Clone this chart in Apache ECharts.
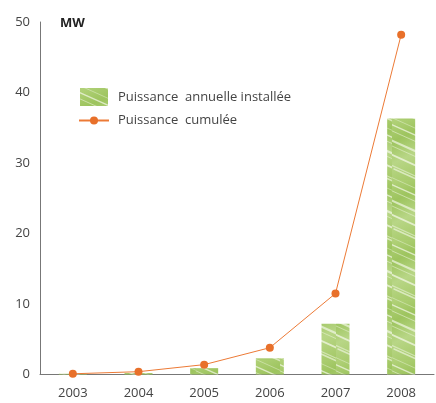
<!DOCTYPE html>
<html><head><meta charset="utf-8">
<script src="https://cdn.jsdelivr.net/npm/echarts@6/dist/echarts.min.js"></script>
<style>html,body{margin:0;padding:0;background:#fff}#c{width:436px;height:403px}</style>
</head><body><div id="c"></div>
<script>
const years = ['2003','2004','2005','2006','2007','2008'];
const annualMW = [0.1, 0.2, 0.9, 2.3, 7.2, 36.3];
const cumulativeMW = [0.1, 0.4, 1.4, 3.8, 11.5, 48.2];
const yTicks = [0, 10, 20, 30, 40, 50];
const seriesNames = ['Puissance  annuelle installée', 'Puissance  cumulée'];

function makePattern() {
  const c = document.createElement('canvas');
  c.width = 28; c.height = 60;
  const g = c.getContext('2d');
  const grd = g.createLinearGradient(0, 0, 28, 60);
  grd.addColorStop(0, '#b2d27a');
  grd.addColorStop(0.3, '#9dc45e');
  grd.addColorStop(0.6, '#b8d686');
  grd.addColorStop(1, '#a4c866');
  g.fillStyle = grd; g.fillRect(0, 0, 28, 60);
  g.lineCap = 'round';
  const streaks = [[-6,2,1.4,0.7],[-2,10,1.0,0.5],[-8,17,2.2,0.65],[0,26,1.0,0.45],[-4,33,1.8,0.7],[-10,41,1.2,0.5],[2,49,1.6,0.6],[-6,55,1.0,0.4]];
  streaks.forEach(s => {
    g.strokeStyle = 'rgba(246,250,236,' + s[3] + ')';
    g.lineWidth = s[2];
    [-60, 0, 60].forEach(o => {
      g.beginPath(); g.moveTo(s[0], s[1] + o); g.lineTo(s[0] + 40, s[1] + o + 18); g.stroke();
    });
  });
  return c;
}
const pat = { image: makePattern(), repeat: 'repeat' };

const chart = echarts.init(document.getElementById('c'));
const font = '"Open Sans", "Noto Sans", sans-serif';
chart.setOption({
  animation: false,
  textStyle: { fontFamily: font },
  grid: { left: 40, right: 2, top: 22, bottom: 28.5 },
  legend: [
    { left: 75, top: 83, itemWidth: 28, itemHeight: 18,
      textStyle: { fontSize: 13, color: '#444', fontFamily: font, padding: [0, 0, 0, 5] },
      data: [{ name: seriesNames[0], icon: 'rect' }] },
    { left: 73, top: 109, itemWidth: 30, itemHeight: 10,
      textStyle: { fontSize: 13, color: '#444', fontFamily: font, padding: [0, 0, 0, 4] },
      data: [{ name: seriesNames[1] }] }
  ],
  xAxis: {
    type: 'category', data: years,
    axisLine: { lineStyle: { color: '#777', width: 1 } },
    axisTick: { show: false },
    axisLabel: { fontSize: 13, color: '#444', margin: 12, fontFamily: font }
  },
  yAxis: {
    type: 'value', min: 0, max: 50, interval: 10,
    name: 'MW', nameLocation: 'end', nameGap: -8,
    nameTextStyle: { fontWeight: 'bold', fontSize: 13, color: '#222', align: 'left', padding: [0, 0, 0, 20], fontFamily: font },
    axisLine: { show: true, lineStyle: { color: '#777', width: 1 } },
    axisTick: { show: false },
    splitLine: { show: false },
    axisLabel: { fontSize: 13, color: '#444', margin: 10, fontFamily: font,
      formatter: v => yTicks.indexOf(v) >= 0 ? String(v) : '' }
  },
  series: [
    { name: seriesNames[0], type: 'bar', data: annualMW, barWidth: 28,
      itemStyle: { color: pat } },
    { name: seriesNames[1], type: 'line', data: cumulativeMW,
      symbol: 'circle', symbolSize: 8,
      lineStyle: { color: '#ec7a36', width: 1 },
      itemStyle: { color: '#e8702a' } }
  ]
});
</script></body></html>
